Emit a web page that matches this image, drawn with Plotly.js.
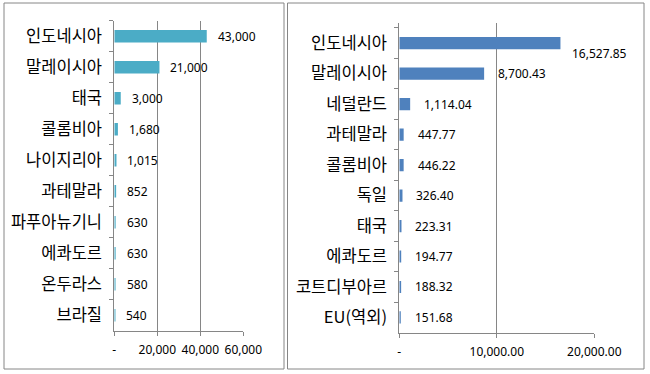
<!DOCTYPE html>
<html>
<head>
<meta charset="utf-8">
<script src="https://cdn.plot.ly/plotly-3.0.1.min.js"></script>
<style>html,body{margin:0;padding:0;background:#fff;}#chart{width:650px;height:374px;}</style>
</head>
<body>
<div id="chart"></div>
<script>
// Left panel data
const leftCategories = ['인도네시아','말레이시아','태국','콜롬비아','나이지리아','과테말라','파푸아뉴기니','에콰도르','온두라스','브라질'];
const leftValues = [43000, 21000, 3000, 1680, 1015, 852, 630, 630, 580, 540];
const leftTickVals = [0, 20000, 40000, 60000];
const leftTickText = ['-', '20,000', '40,000', '60,000'];

// Right panel data
const rightCategories = ['인도네시아','말레이시아','네덜란드','과테말라','콜롬비아','독일','태국','에콰도르','코트디부아르','EU(역외)'];
const rightValues = [16527.85, 8700.43, 1114.04, 447.77, 446.22, 326.40, 223.31, 194.77, 188.32, 151.68];
const rightTickVals = [0, 10000, 20000];
const rightTickText = ['-', '10,000.00', '20,000.00'];

const gray = '#868686';
const catFont = {family: 'Noto Sans CJK KR, Noto Sans, sans-serif', size: 16.5, color: '#000'};
const numFont = {family: 'Noto Sans, Noto Sans CJK KR, sans-serif', size: 12, color: '#000'};

const fmtInt = v => v.toLocaleString('en-US', {maximumFractionDigits: 0});
const fmt2 = v => v.toLocaleString('en-US', {minimumFractionDigits: 2, maximumFractionDigits: 2});

const traces = [
  {type: 'bar', orientation: 'h', x: leftValues, y: leftCategories, xaxis: 'x', yaxis: 'y',
   marker: {color: '#4BACC6'}, hoverinfo: 'none'},
  {type: 'bar', orientation: 'h', x: rightValues, y: rightCategories, xaxis: 'x2', yaxis: 'y2',
   marker: {color: '#4F81BD'}, hoverinfo: 'none'}
];

const annotations = [];
leftValues.forEach((v, i) => {
  annotations.push({x: v, y: leftCategories[i], xref: 'x', yref: 'y', text: fmtInt(v),
    showarrow: false, xanchor: 'left', yanchor: 'middle', xshift: 9, font: numFont});
});
rightValues.forEach((v, i) => {
  annotations.push({x: v, y: rightCategories[i], xref: 'x2', yref: 'y2', text: fmt2(v),
    showarrow: false, xanchor: 'left', yanchor: 'middle', xshift: i === 0 ? 10 : 12, yshift: i === 0 ? -10 : 0, font: numFont});
});

const xBase = {showline: true, linecolor: gray, linewidth: 1, showgrid: true, gridcolor: gray, gridwidth: 1,
  ticks: 'outside', ticklen: 4, tickcolor: gray, tickfont: numFont, zeroline: false, fixedrange: true,
  tickmode: 'array', ticklabelstandoff: 4};
const yBase = {showline: true, linecolor: gray, linewidth: 1, showgrid: false, ticks: 'outside', ticklen: 4,
  tickcolor: gray, tickson: 'boundaries', tickfont: catFont, autorange: 'reversed', fixedrange: true,
  ticklabelstandoff: 8};

const layout = {
  width: 650, height: 374,
  margin: {l: 0, r: 0, t: 0, b: 0},
  paper_bgcolor: '#fff', plot_bgcolor: '#fff',
  showlegend: false, bargap: 0.6,
  xaxis: Object.assign({}, xBase, {domain: [114.3/650, 243.3/650], range: [0, 60000], tickvals: leftTickVals, ticktext: leftTickText, anchor: 'y'}),
  yaxis: Object.assign({}, yBase, {domain: [1 - 330.7/374, 1 - 20.7/374], anchor: 'x'}),
  xaxis2: Object.assign({}, xBase, {domain: [399.3/650, 594.3/650], range: [0, 20000], tickvals: rightTickVals, ticktext: rightTickText, anchor: 'y2'}),
  yaxis2: Object.assign({}, yBase, {domain: [1 - 332.7/374, 1 - 22.7/374], anchor: 'x2'}),
  annotations: annotations,
  shapes: [
    {type: 'rect', xref: 'paper', yref: 'paper', x0: 4/650, x1: 284/650, y0: 1 - 369/374, y1: 1 - 3/374, line: {color: gray, width: 1}},
    {type: 'rect', xref: 'paper', yref: 'paper', x0: 287.5/650, x1: 644/650, y0: 1 - 369/374, y1: 1 - 3/374, line: {color: gray, width: 1}}
  ]
};

Plotly.newPlot('chart', traces, layout, {displayModeBar: false, staticPlot: true});
</script>
</body>
</html>
